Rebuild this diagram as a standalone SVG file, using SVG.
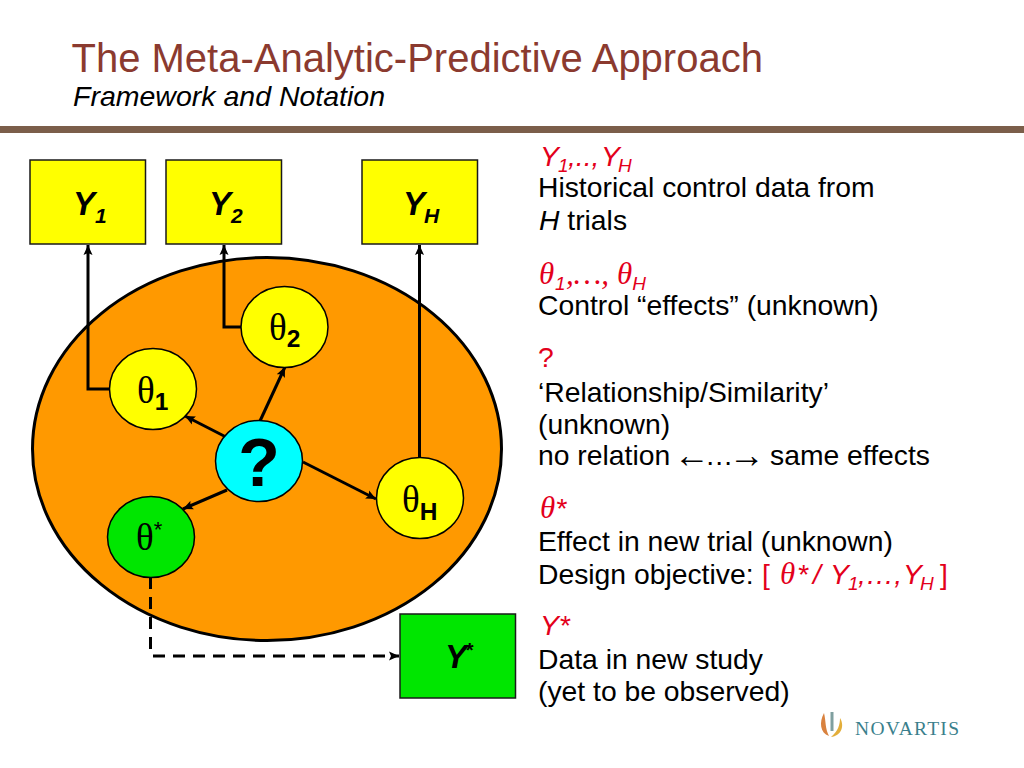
<svg xmlns="http://www.w3.org/2000/svg" width="1024" height="768" viewBox="0 0 1024 768">
<style>
text{font-family:"Liberation Sans",Arial,sans-serif;fill:#000}
.t{font-size:28.3px}
.r{font-size:28.3px;fill:#e3001b;font-style:italic}
.s{font-size:19px}
.g{font-family:"Liberation Serif",serif;font-size:31px}
.ar{font-family:"Liberation Serif",serif;font-size:36px}
.box{stroke:#1a1a1a;stroke-width:1.5}
.node{stroke:#000;stroke-width:1.5}
.lab{font-size:33px;font-weight:bold;font-style:italic}
.th{font-family:"Liberation Serif",serif;font-size:37px}
.sb{font-size:24.500px;font-weight:bold}
.c{fill:none;stroke:#000;stroke-width:3}
</style>
<defs>
<marker id="a" markerUnits="userSpaceOnUse" markerWidth="11" markerHeight="10" refX="10" refY="5" orient="auto"><path d="M0 .5L10 5L0 9.500L2 5Z" fill="#000"/></marker>
</defs>
<rect width="1024" height="768" fill="#fff"/>
<text x="71.500" y="71.500" font-size="40" style="fill:#8b3a2f">The Meta-Analytic-Predictive Approach</text>
<text x="73" y="106" font-size="28.5" font-style="italic">Framework and Notation</text>
<rect x="0" y="126" width="1024" height="7" fill="#7b5e4a"/>
<g id="cloud"><ellipse cx="267" cy="449" rx="234.500" ry="191.500" fill="#ff9900" stroke="#000" stroke-width="3"/></g>
<g id="connectors">
<path class="c" d="M109 389H88V245" marker-end="url(#a)"/>
<path class="c" d="M241 327H224V245" marker-end="url(#a)"/>
<path class="c" d="M419.500 458V245" marker-end="url(#a)"/>
<path class="c" d="M260 421L285 367" marker-end="url(#a)"/>
<path class="c" d="M226 437L185 416" marker-end="url(#a)"/>
<path class="c" d="M303 462L376 499" marker-end="url(#a)"/>
<path class="c" d="M227 490L183 509" marker-end="url(#a)"/>
<path class="c" d="M150.500 577V650" stroke-dasharray="12 8"/>
<path class="c" d="M153 656H399" stroke-dasharray="12 8" marker-end="url(#a)"/>
</g>
<g id="y1"><rect class="box" x="30" y="160" width="115.500" height="84" fill="#ffff00"/><text class="lab" x="73" y="215">Y<tspan font-size="21" dy="8">1</tspan></text></g>
<g id="y2"><rect class="box" x="166" y="160" width="115.500" height="84" fill="#ffff00"/><text class="lab" x="209" y="215">Y<tspan font-size="21" dy="8">2</tspan></text></g>
<g id="yh"><rect class="box" x="362" y="160" width="115.500" height="84" fill="#ffff00"/><text class="lab" x="403" y="215">Y<tspan font-size="21" dy="8" dx="-1">H</tspan></text></g>
<g id="ystar"><rect class="box" x="400" y="614" width="115.500" height="84" fill="#00e600"/><text class="lab" x="445" y="668">Y<tspan font-size="20" dy="-11" dx="-2">*</tspan></text></g>
<g id="theta1"><ellipse class="node" cx="153" cy="389" rx="43.500" ry="40.500" fill="#ffff00"/><text x="137" y="403"><tspan class="th">θ</tspan><tspan class="sb" dy="7">1</tspan></text></g>
<g id="theta2"><ellipse class="node" cx="284.500" cy="327" rx="43.500" ry="40.500" fill="#ffff00"/><text x="269" y="340"><tspan class="th">θ</tspan><tspan class="sb" dy="7">2</tspan></text></g>
<g id="question"><ellipse class="node" cx="259" cy="461" rx="43.500" ry="40.500" fill="#00ffff"/><text x="259" y="486" text-anchor="middle" font-size="68" font-weight="bold">?</text></g>
<g id="thetaH"><ellipse class="node" cx="420" cy="498" rx="43.500" ry="40.500" fill="#ffff00"/><text x="402" y="512"><tspan class="th">θ</tspan><tspan class="sb" dy="8">H</tspan></text></g>
<g id="thetaStar"><ellipse class="node" cx="151" cy="537" rx="43.500" ry="40.500" fill="#00e600"/><text x="136" y="550"><tspan class="th">θ</tspan><tspan font-size="22" dy="-13">*</tspan></text></g>
<g id="notes">
<text class="r" x="540" y="166">Y<tspan class="s" dy="6" x="558">1</tspan><tspan dy="-6" x="568">,..,</tspan><tspan x="601">Y</tspan><tspan class="s" dy="6" x="618">H</tspan></text>
<text class="t" x="538" y="197">Historical control data from</text>
<text class="t" x="539" y="230"><tspan font-style="italic">H</tspan> trials</text>
<text class="r" x="539" y="284"><tspan class="g">θ</tspan><tspan class="s" dy="6" x="555">1</tspan><tspan class="g" dy="-6" x="566" font-size="28">,…,</tspan><tspan class="g" x="617">θ</tspan><tspan class="s" dy="6">H</tspan></text>
<text class="t" x="538" y="315">Control “effects” (unknown)</text>
<text class="r" x="538" y="367" style="font-style:normal">?</text>
<text class="t" x="538" y="402">‘Relationship/Similarity’</text>
<text class="t" x="538" y="434">(unknown)</text>
<text class="t" x="538" y="465">no relation <tspan class="ar" x="674" dy="2">←</tspan><tspan x="705" dy="-2">…</tspan><tspan class="ar" x="729" dy="2">→</tspan><tspan x="770" dy="-2">same effects</tspan></text>
<text class="r" x="540" y="518"><tspan class="g">θ</tspan>*</text>
<text class="t" x="538" y="551">Effect in new trial (unknown)</text>
<text class="t" x="538" y="584">Design objective: <tspan style="fill:#e3001b"><tspan x="762">[</tspan><tspan class="g" font-style="italic" x="780">θ</tspan><tspan font-style="italic" x="797">*</tspan><tspan font-style="italic" x="813">/</tspan><tspan font-style="italic" x="830">Y</tspan><tspan class="s" font-style="italic" dy="6" x="848">1</tspan><tspan font-style="italic" dy="-6" x="858">,…,</tspan><tspan font-style="italic" x="903">Y</tspan><tspan class="s" font-style="italic" dy="6" x="920">H</tspan><tspan dy="-6" x="940">]</tspan></tspan></text>
<text class="r" x="540" y="635">Y*</text>
<text class="t" x="538" y="669">Data in new study</text>
<text class="t" x="538" y="701">(yet to be observed)</text>
</g>
<g id="logo">
<path d="M824 713C819 722 820 733 829 736C825 729 826 721 824 713Z" fill="#d9823f"/>
<path d="M832 712V731" stroke="#7f9f9f" stroke-width="3" fill="none"/>
<path d="M840 718C845 726 841 736 831 737C838 731 840 725 840 718Z" fill="#e3ae3a"/>
<text x="855" y="735" font-size="19.500" style="font-family:'Liberation Serif',serif;fill:#3a7f8c;letter-spacing:1.300px">NOVARTIS</text>
</g>
</svg>
